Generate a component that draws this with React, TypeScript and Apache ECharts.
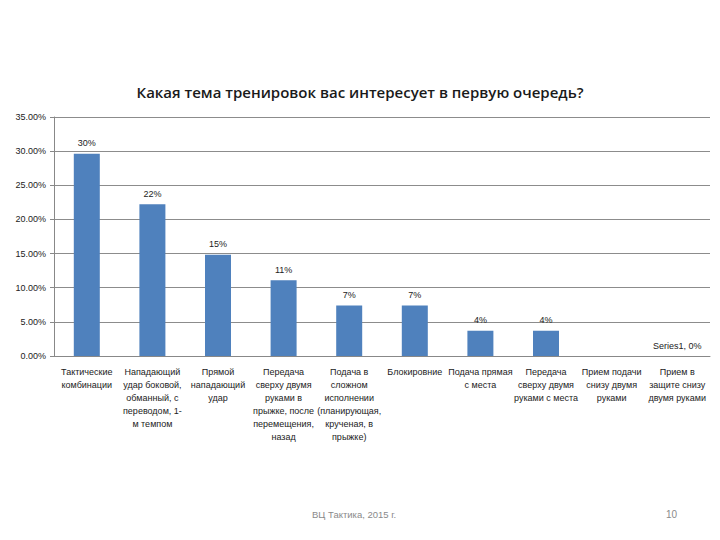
import React, { useEffect, useRef } from "react";
import * as echarts from "echarts";

const titleText = "Какая тема тренировок вас интересует в первую очередь?";
const categories = [
  "Тактические\nкомбинации",
  "Нападающий\nудар боковой,\nобманный, с\nпереводом, 1-\nм темпом",
  "Прямой\nнападающий\nудар",
  "Передача\nсверху двумя\nруками в\nпрыжке, после\nперемещения,\nназад",
  "Подача в\nсложном\nисполнении\n(планирующая,\nкрученая, в\nпрыжке)",
  "Блокировние",
  "Подача прямая\nс места",
  "Передача\nсверху двумя\nруками с места",
  "Прием подачи\nснизу двумя\nруками",
  "Прием в\nзащите снизу\nдвумя руками",
];
const values = [29.63, 22.22, 14.81, 11.11, 7.41, 7.41, 3.7, 3.7, 0, 0];
const seriesName = "Series1";
const footerLeft = "ВЦ Тактика, 2015 г.";
const footerRight = "10";

export default function App() {
  const ref = useRef<HTMLDivElement>(null);
  useEffect(() => {
    if (!ref.current) return;
    const chart = echarts.init(ref.current, null, { renderer: "svg" });
    const font = "'Liberation Sans', Arial, sans-serif";
    chart.setOption({
      animation: false,
      backgroundColor: "#ffffff",
      textStyle: { fontFamily: font },
      title: {
        text: titleText,
        left: "center",
        top: 79,
        textStyle: { fontSize: 15, fontWeight: 600, color: "#1a1a1a", fontFamily: "'Open Sans', sans-serif" },
      },
      grid: { left: 54, right: 10, top: 117, bottom: 184, containLabel: false },
      xAxis: {
        type: "category",
        data: categories,
        axisLine: { lineStyle: { color: "#888888" } },
        axisTick: { show: false },
        axisLabel: {
          interval: 0,
          fontSize: 9,
          lineHeight: 13,
          color: "#222222",
          margin: 9,
          align: "center",
        },
      },
      yAxis: {
        type: "value",
        min: 0,
        max: 35,
        interval: 5,
        axisLine: { show: true, lineStyle: { color: "#888888" } },
        axisTick: { show: true, length: 4, lineStyle: { color: "#888888" } },
        splitLine: { lineStyle: { color: "#8c8c8c" } },
        axisLabel: {
          fontSize: 9,
          color: "#222222",
          margin: 8,
          formatter: (v: number) => v.toFixed(2) + "%",
        },
      },
      series: [
        {
          name: seriesName,
          type: "bar",
          barWidth: 26,
          itemStyle: { color: "#4F81BD" },
          data: values.map((v, i) => ({
            value: v,
            label: {
              show: i !== 8,
              formatter: i === 9 ? `${seriesName}, ${Math.round(v)}%` : `${Math.round(v)}%`,
            },
          })),
          label: {
            show: true,
            position: "top",
            distance: 6,
            fontSize: 9,
            color: "#222222",
          },
        },
      ],
      graphic: [
        {
          type: "text",
          left: 312,
          top: 509,
          style: { text: footerLeft, fontSize: 9.5, fill: "#8a8a8a", fontFamily: font },
        },
        {
          type: "text",
          left: 666,
          top: 509,
          style: { text: footerRight, fontSize: 10, fill: "#8a8a8a", fontFamily: font },
        },
      ],
    });
    return () => chart.dispose();
  }, []);
  return (
    <div
      ref={ref}
      style={{ position: "fixed", left: 0, top: 0, width: 720, height: 540 }}
    />
  );
}
